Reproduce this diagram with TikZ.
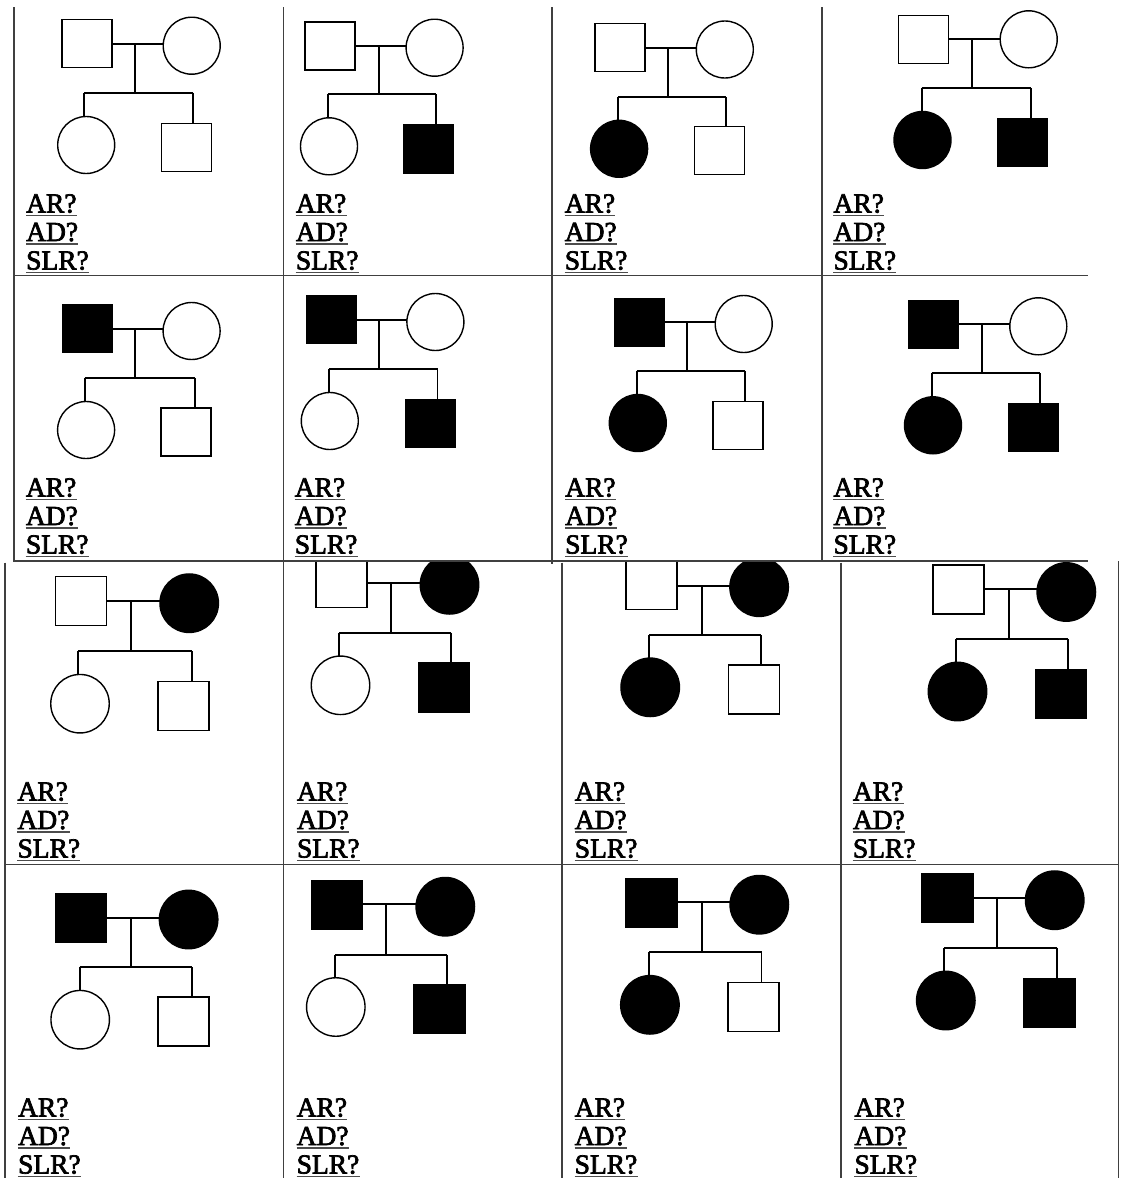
\documentclass[tikz,border=0pt]{standalone}
\usepackage{fontspec}
\setmainfont{Liberation Serif}
\newfontfamily\lblfont[FakeBold=2.6]{Liberation Serif}
\tikzset{
  grid/.style={draw=black!75, line width=1.2pt},
  conn/.style={draw=black, line width=1.9pt},
  shp/.style={draw=black, line width=1.4pt, inner sep=0pt, outer sep=0pt},
  sqo/.style={shp, rectangle, minimum width=50pt, minimum height=48pt, fill=white},
  sqf/.style={sqo, fill=black},
  cio/.style={shp, circle, minimum size=57pt, fill=white},
  cif/.style={cio, fill=black},
  big/.style={minimum width=51pt, minimum height=49pt},
  bigc/.style={minimum size=58.5pt},
  lbl/.style={anchor=base west, inner sep=0pt, font=\lblfont\fontsize{27.5}{30}\selectfont},
  uline/.style={draw=black!70, line width=1.6pt}
}
\newcommand{\ped}[9]{%
  \node[#2] (#1f) {};
  \node[#3] (#1m) {};
  \node[#4] (#1d) {};
  \node[#5] (#1s) {};
  \coordinate (#1j) at (#6);
  \coordinate (#1k) at (#7);
  \coordinate (#1a) at (#8);
  \coordinate (#1b) at (#9);
  \draw[conn] (#1f.east |- #1j) -- (#1m.west |- #1j);
  \draw[conn] (#1j) -- (#1k);
  \draw[conn] (#1a) -- (#1b);
  \draw[conn] (#1a) -- (#1a |- #1d.north);
  \draw[conn] (#1b) -- (#1b |- #1s.north);
}
\newcommand{\qlabels}[3]{%
  \node[lbl] (#1ar) at (#2,#3) {AR?};
  \node[lbl] (#1ad) at (#2,#3+28.5) {AD?};
  \node[lbl] (#1slr) at (#2,#3+57) {SLR?};
  \draw[uline] ([yshift=-3pt]#1ar.base west) -- ([yshift=-3pt]#1ar.base east);
  \draw[uline] ([yshift=-3pt]#1ad.base west) -- ([yshift=-3pt]#1ad.base east);
  \draw[uline] ([yshift=-3pt]#1slr.base west) -- ([yshift=-3pt]#1slr.base east);
}
\begin{document}
\begin{tikzpicture}[x=1pt,y=-1pt]
\useasboundingbox[fill=white] (0,0) rectangle (1123,1178);

% grid lines, top half
\draw[grid] (14,7) -- (14,562);
\draw[grid] (283.3,7) -- (283.3,1178);
\draw[grid] (552,7) -- (552,564);
\draw[grid] (822,7) -- (822,562);
\draw[grid] (14,275.3) -- (1088,275.3);
\draw[grid] (14,561) -- (1088,561);
% grid lines, bottom half
\draw[grid] (5,562.5) -- (5,1178);
\draw[grid] (562,562.5) -- (562,1178);
\draw[grid] (841,562.5) -- (841,1178);
\draw[grid] (1118.5,561) -- (1118.5,1178);
\draw[grid] (5,864.7) -- (1118.5,864.7);

% Row 1
\ped{pa}{sqo,at={(86.9,43.7)}}{cio,at={(191.7,45.7)}}{cio,at={(86.2,145)}}{sqo,at={(186.2,147.4)}}{135,44}{135,92.7}{84.3,92.7}{193.3,92.7}
\qlabels{pa}{26}{212.5}
\ped{pb}{sqo,at={(330,45.8)}}{cio,at={(434.6,47.7)}}{cio,at={(329,146.3)}}{sqf,at={(428.7,148.8)}}{378.9,45.7}{378.9,94.3}{327.9,94.3}{436,94.3}
\qlabels{pb}{295.7}{212.5}
\ped{pc}{sqo,at={(619.8,47.5)}}{cio,at={(724.8,49.5)}}{cif,at={(619.1,148.8)}}{sqo,at={(719.3,150.7)}}{668.2,48.3}{668.2,97}{618.2,97}{726.4,97}
\qlabels{pc}{564.6}{212.5}
\ped{pd}{sqo,at={(923.5,39.2)}}{cio,at={(1028.7,39.3)}}{cif,at={(922.5,140)}}{sqf,at={(1022.7,142.2)}}{972.3,39.3}{972.3,88.3}{921.7,88.3}{1030.7,88.3}
\qlabels{pd}{833.3}{212.5}

% Row 2
\ped{pe}{sqf,at={(87.3,328.7)}}{cio,at={(191.6,331)}}{cio,at={(86.1,430)}}{sqo,at={(185.9,431.9)}}{135,328.7}{135,378}{84.6,378}{194.6,378}
\qlabels{pe}{25.7}{496.5}
\ped{pf}{sqf,at={(331.4,319.7)}}{cio,at={(435.4,322)}}{cio,at={(329.8,421)}}{sqf,at={(430.2,423.7)}}{379.3,320}{379.3,369}{328.9,369}{437.5,369}
\qlabels{pf}{294.6}{496.5}
\ped{pg}{sqf,at={(639.2,322.2)}}{cio,at={(743.7,324)}}{cif,at={(637.8,423)}}{sqo,at={(737.9,425.5)}}{687.3,321.7}{687.3,370.7}{636.7,370.7}{745,370.7}
\qlabels{pg}{565}{496.5}
\ped{ph}{sqf,at={(933.7,324.5)}}{cio,at={(1038.3,326.3)}}{cif,at={(933,425.3)}}{sqf,at={(1033.3,427.5)}}{982.3,324}{982.3,373.3}{931.7,373.3}{1040,373.3}
\qlabels{ph}{833.3}{496.5}

% Row 3
\ped{pi}{sqo,big,at={(81.2,601.2)}}{cif,bigc,at={(189.2,603.2)}}{cio,bigc,at={(80,703.7)}}{sqo,big,at={(183.5,705.9)}}{130.7,601}{130.7,651}{78.3,651}{191.7,651}
\qlabels{pi}{17.3}{800.5}
\begin{scope}
\clip (283.3,562.6) rectangle (562,864.7);
\ped{pj}{sqo,big,at={(341.4,582.8)}}{cif,bigc,at={(449.5,584.8)}}{cio,bigc,at={(340.5,685.3)}}{sqf,big,at={(444,687.5)}}{391.4,583.3}{391.4,632.7}{338.9,632.7}{451.4,632.7}
\end{scope}
\qlabels{pj}{296.8}{800.5}
\begin{scope}
\clip (562,562.6) rectangle (841,864.7);
\ped{pk}{sqo,big,at={(651.4,584.8)}}{cif,bigc,at={(759.1,587.2)}}{cif,bigc,at={(650.2,687.3)}}{sqo,big,at={(753.8,689.5)}}{702.1,585.7}{702.1,635}{649.3,635}{761.1,635}
\end{scope}
\qlabels{pk}{574.6}{800.5}
\ped{pl}{sqo,big,at={(958.4,589.5)}}{cif,bigc,at={(1066.3,592)}}{cif,bigc,at={(957.5,691.5)}}{sqf,big,at={(1061.2,694.2)}}{1009,589}{1009,639}{956,639}{1068.3,639}
\qlabels{pl}{852.7}{800.5}

% Row 4
\ped{pm}{sqf,big,at={(81.1,917.8)}}{cif,bigc,at={(188.6,919.5)}}{cio,bigc,at={(80.2,1019.7)}}{sqo,big,at={(183.5,1021.4)}}{130.6,917.7}{130.6,967.3}{79.7,967.3}{191.9,967.3}
\qlabels{pm}{17.9}{1116.5}
\ped{pn}{sqf,big,at={(336.9,904.7)}}{cif,bigc,at={(445.3,906.7)}}{cio,bigc,at={(335.8,1007)}}{sqf,big,at={(439.3,1008.9)}}{386.4,904}{386.4,954.7}{335,954.7}{447.2,954.7}
\qlabels{pn}{296.5}{1116.5}
\ped{po}{sqf,big,at={(651.5,902.9)}}{cif,bigc,at={(759.3,904.7)}}{cif,bigc,at={(649.9,1004.8)}}{sqo,big,at={(753.4,1006.9)}}{701.9,902.3}{701.9,952.3}{649.3,952.3}{761.5,952.3}
\qlabels{po}{574.5}{1116.5}
\ped{pp}{sqf,big,at={(947.5,898)}}{cif,bigc,at={(1054.7,900.2)}}{cif,bigc,at={(945.8,1000.5)}}{sqf,big,at={(1049.5,1003)}}{996.7,898.3}{996.7,947.7}{944.3,947.7}{1057.3,947.7}
\qlabels{pp}{854.3}{1116.5}
\end{tikzpicture}
\end{document}
